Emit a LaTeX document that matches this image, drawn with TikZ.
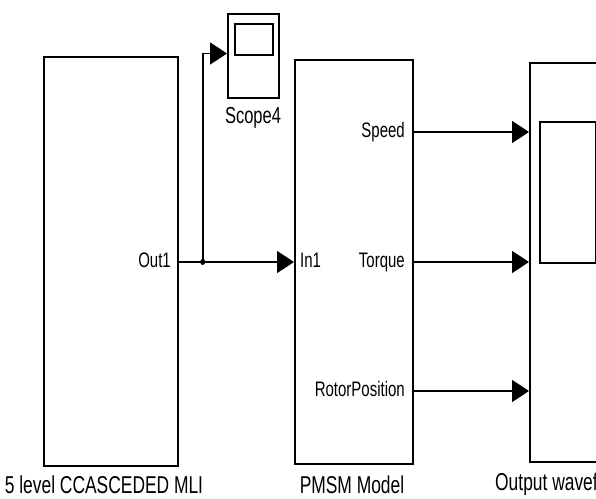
\documentclass[tikz,border=0pt]{standalone}
\usepackage{fontspec}
\usepackage{graphicx}
\setmainfont{Liberation Sans}
\usetikzlibrary{arrows.meta,shapes.geometric}

% tall, narrow lettering used for all labels
\newcommand\tallText[1]{\scalebox{1}[1.4]{#1}}

\tikzset{
  blk/.style={draw, line width=1.7pt, rectangle, inner sep=0pt, anchor=north west},
  sig/.style={line width=1.7pt, -{Triangle[length=17pt,width=22pt]}},
  portlbl/.style={inner sep=0pt, font=\fontsize{15}{18}\selectfont},
  namelbl/.style={inner sep=0pt, font=\fontsize{17.4}{20}\selectfont},
}

\begin{document}
\begin{tikzpicture}[x=1pt, y=-1pt]
  \useasboundingbox (0,0) rectangle (596,498);
  \clip (0,0) rectangle (596,498);

  % blocks
  \node[blk, minimum width=134pt, minimum height=409pt] (mli)   at (43,56)  {};
  \node[blk, minimum width=118pt, minimum height=404pt] (pmsm)  at (294,59) {};
  \node[blk, minimum width=171pt, minimum height=399pt] (wave)  at (529,62) {};
  \node[blk, minimum width=56pt,  minimum height=141pt] (screen) at (539,121) {};
  \node[blk, minimum width=51pt,  minimum height=84pt]  (scope) at (227,13) {};
  \node[blk, minimum width=38pt,  minimum height=31pt]  (scopescreen) at (234,23) {};

  % port points
  \coordinate (mliout)  at (mli.east |- 0,262);
  \coordinate (pmsmin)  at (pmsm.west |- 0,262);
  \coordinate (scopein) at (scope.west |- 0,53.5);
  \coordinate (spdout)  at (pmsm.east |- 0,132);
  \coordinate (trqout)  at (pmsm.east |- 0,262);
  \coordinate (posout)  at (pmsm.east |- 0,391);
  \coordinate (spdin)   at (wave.west |- 0,132);
  \coordinate (trqin)   at (wave.west |- 0,262);
  \coordinate (posin)   at (wave.west |- 0,391);

  % branch point
  \node[ellipse, fill, inner sep=0pt, minimum width=5pt, minimum height=6pt] (br) at (202.7,262) {};

  % signals
  \draw[sig] (mliout) -- (pmsmin);
  \draw[sig] (br.center) |- (scopein);
  \draw[sig] (spdout) -- (spdin);
  \draw[sig] (trqout) -- (trqin);
  \draw[sig] (posout) -- (posin);

  % port labels
  \node[portlbl, anchor=base east] (lout1) at (171,267) {\tallText{Out1}};
  \node[portlbl, anchor=base west] (lin1)  at (300,267) {\tallText{In1}};
  \node[portlbl, anchor=base east] (lspd)  at (405,137) {\tallText{Speed}};
  \node[portlbl, anchor=base east] (ltrq)  at (405,267) {\tallText{Torque}};
  \node[portlbl, anchor=base east] (lpos)  at (405,396) {\tallText{RotorPosition}};

  % block names
  \node[portlbl, anchor=base, font=\fontsize{16.5}{19}\selectfont] (lscope) at (253,123) {\tallText{Scope4}};
  \node[namelbl, anchor=base] (lmli)  at (104,493) {\tallText{5 level CCASCEDED MLI}};
  \node[namelbl, anchor=base] (lpmsm) at (352,493) {\tallText{PMSM Model}};
  \node[namelbl, anchor=base west] (lwave) at (495,490) {\tallText{Output waveform}};
\end{tikzpicture}
\end{document}
